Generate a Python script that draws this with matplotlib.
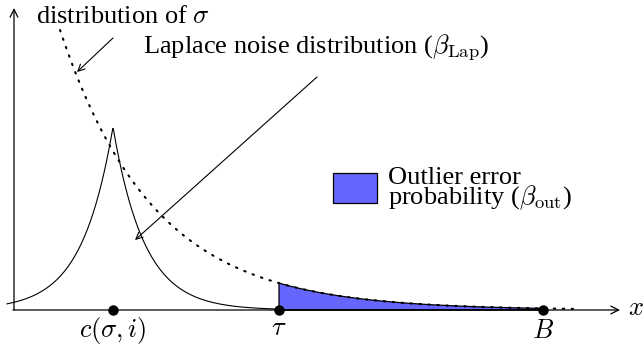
import numpy as np
import matplotlib.pyplot as plt
from matplotlib.patches import Rectangle

plt.rcParams['font.family'] = ['Liberation Serif', 'DejaVu Serif']
plt.rcParams['mathtext.fontset'] = 'cm'
plt.rcParams['mathtext.rm'] = 'Liberation Serif'

# schematic parameters (units ~ pixels from the origin)
sigma_start, sigma_end = 46, 559      # dotted "distribution of sigma"
sigma_h0 = 280                        # height at sigma_start
sigma_decay = 0.0107

lap_center = 99                       # c(sigma, i)
lap_peak = 183
lap_decay = 0.032
lap_start = -7

tau = 265
B = 529

x_axis_end = 606
y_axis_top = 302

point_x = [lap_center, tau, B]
point_labels = [r'$c(\sigma, i)$', r'$\tau$', r'$B$']

fig = plt.figure(figsize=(6.44, 3.45), dpi=100)
ax = fig.add_axes([0, 0, 1, 1])
ax.set_xlim(-14, 630)
ax.set_ylim(-35, 310)
ax.axis('off')

fs = 19

# axes
ax.annotate('', xy=(x_axis_end, 0), xytext=(-1, 0),
            arrowprops=dict(arrowstyle='->', lw=0.9, color='black', shrinkA=0, shrinkB=0,
                            mutation_scale=14))
ax.annotate('', xy=(0, y_axis_top), xytext=(0, 0),
            arrowprops=dict(arrowstyle='->', lw=0.9, color='black', shrinkA=0, shrinkB=0,
                            mutation_scale=14))
ax.text(614, 1, r'$x$', fontsize=fs, ha='left', va='center')

# distribution of sigma (dotted)
xs = np.linspace(sigma_start, sigma_end, 400)
ys = sigma_h0 * np.exp(-sigma_decay * (xs - sigma_start))

# shaded outlier region
xf = np.linspace(tau, B, 200)
yf = sigma_h0 * np.exp(-sigma_decay * (xf - sigma_start))
ax.fill_between(xf, 0, yf, facecolor='#6666ff', edgecolor='none', zorder=2)
ax.plot(np.r_[tau, xf, B], np.r_[0, yf, 0], color='black', lw=0.9, zorder=3)
ax.plot([tau, B], [0, 0], color='black', lw=1.2, zorder=3)

ax.plot(xs, ys, color='black', lw=1.5, linestyle=(0, (0.7, 3.6)),
        dash_capstyle='round', zorder=4)

# Laplace noise
xl = np.linspace(lap_start, tau, 500)
yl = lap_peak * np.exp(-lap_decay * np.abs(xl - lap_center))
ax.plot(xl, yl, color='black', lw=0.8, zorder=3)

# points on the x-axis
ax.plot(point_x, [0] * len(point_x), 'o', color='black', ms=6.5, zorder=5)
ax.text(lap_center, -21, point_labels[0], fontsize=fs, ha='center', va='center')
ax.text(tau, -8, point_labels[1], fontsize=fs, ha='center', va='top')
ax.text(B, -10, point_labels[2], fontsize=fs, ha='center', va='top')

# labels with arrows
ax.text(22, 293, r'distribution of $\sigma$', fontsize=fs, ha='left', va='center')
ax.annotate('', xy=(63, 238), xytext=(99, 272),
            arrowprops=dict(arrowstyle='->', lw=0.8, color='black', shrinkA=0, shrinkB=0,
                            mutation_scale=12))
ax.text(129, 263, r'Laplace noise distribution ($\beta_{\mathrm{Lap}}$)', fontsize=fs,
        ha='left', va='center')
ax.annotate('', xy=(121, 70), xytext=(303, 233),
            arrowprops=dict(arrowstyle='->', lw=0.8, color='black', shrinkA=0, shrinkB=0,
                            mutation_scale=12))

# legend box
ax.add_patch(Rectangle((319, 107), 44, 30, facecolor='#6666ff', edgecolor='black', lw=0.9))
ax.text(374, 106, 'Outlier error\n' + r'probability ($\beta_{\mathrm{out}}$)', fontsize=fs,
        ha='left', va='baseline', linespacing=0.72)

fig.savefig('out.png', dpi=100)
